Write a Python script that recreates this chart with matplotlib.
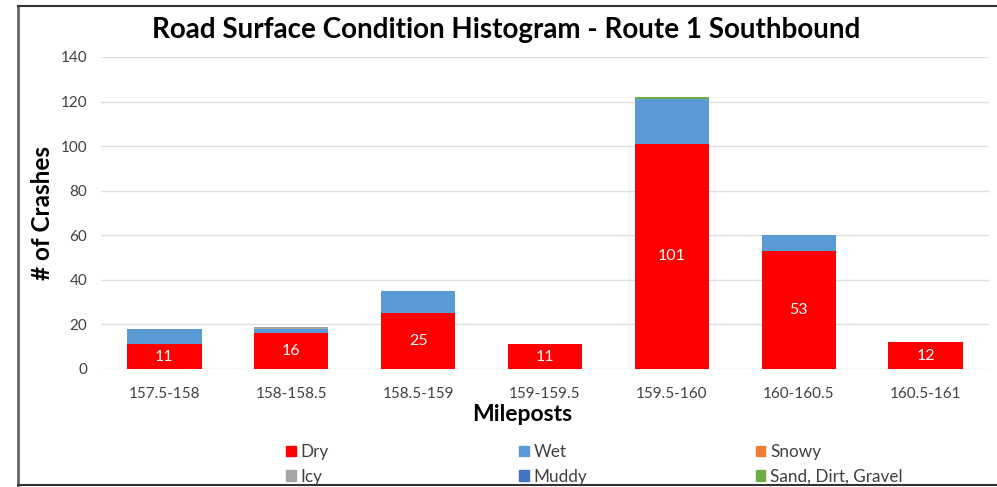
import matplotlib
matplotlib.use("Agg")
import matplotlib.pyplot as plt
import numpy as np
from matplotlib.patches import Patch
from matplotlib.lines import Line2D

plt.rcParams["font.family"] = ["Lato", "DejaVu Sans"]

mileposts = ["157.5-158", "158-158.5", "158.5-159", "159-159.5",
             "159.5-160", "160-160.5", "160.5-161"]
dry = [11, 16, 25, 11, 101, 53, 12]
wet = [7, 2, 10, 0, 20, 7, 0]
snowy = [0, 0, 0, 0, 0, 0, 0]
icy = [0, 1, 0, 0, 0, 0, 0]
muddy = [0, 0, 0, 0, 0, 0, 0]
sand = [0, 0, 0, 0, 1, 0, 0]

series = [("Dry", dry, "#FF0000"), ("Wet", wet, "#5B9BD5"),
          ("Snowy", snowy, "#ED7D31"), ("Icy", icy, "#A5A5A5"),
          ("Muddy", muddy, "#4472C4"), ("Sand, Dirt, Gravel", sand, "#70AD47")]

fig = plt.figure(figsize=(9.97, 4.87), dpi=100)
ax = fig.add_axes([0.1013, 0.2423, 0.8907, 0.6407])

x = np.arange(len(mileposts))
bottom = np.zeros(len(mileposts))
handles = {}
for name, vals, col in series:
    vals = np.array(vals, dtype=float)
    b = ax.bar(x, vals, 0.585, bottom=bottom, color=col, zorder=2)
    if name == "Dry":
        ax.bar_label(b, label_type="center", color="white", fontsize=11.5)
    bottom += vals
    handles[name] = Patch(color=col)

ax.set_ylim(0, 140)
ax.set_xlim(-0.5, len(mileposts) - 0.5)
ax.set_yticks(range(0, 141, 20))
ax.set_xticks(x)
ax.set_xticklabels(mileposts)
ax.grid(axis="y", color="#E0E0E0", lw=1, zorder=0)
for s in ax.spines.values():
    s.set_visible(False)
ax.tick_params(length=0, labelsize=11, colors="#404040")
ax.tick_params(axis="x", pad=13)
ax.tick_params(axis="y", pad=10)

ax.set_ylabel("# of Crashes", fontsize=17.5, fontweight="bold")
ax.yaxis.set_label_coords(-0.053, 0.5)
ax.set_xlabel("Mileposts", fontsize=16.5, fontweight="bold")
ax.xaxis.set_label_coords(0.474, -0.112)
fig.text(0.508, 0.938, "Road Surface Condition Histogram - Route 1 Southbound",
         ha="center", va="center", fontsize=20, fontweight="bold")

# legend: three columns, two rows (Excel row order)
cols = [(["Dry", "Icy"], 0.287), (["Wet", "Muddy"], 0.521), (["Snowy", "Sand, Dirt, Gravel"], 0.758)]
for names, xpos in cols:
    fig.legend([handles[n] for n in names], names, loc="upper left",
               bbox_to_anchor=(xpos, 0.088), frameon=False, fontsize=12.3,
               handlelength=0.55, handleheight=0.55, handletextpad=0.28,
               labelspacing=0.5, borderpad=0, borderaxespad=0,
               labelcolor="#404040")

# frame lines (left, top, bottom)
fig.add_artist(Line2D([0.018, 0.018], [0.004, 0.988], color="#666666", lw=2))
fig.add_artist(Line2D([0.018, 1.0], [0.988, 0.988], color="#333333", lw=1.5))
fig.add_artist(Line2D([0.018, 1.0], [0.004, 0.004], color="#333333", lw=1.5))

fig.savefig("out.png", dpi=100)
